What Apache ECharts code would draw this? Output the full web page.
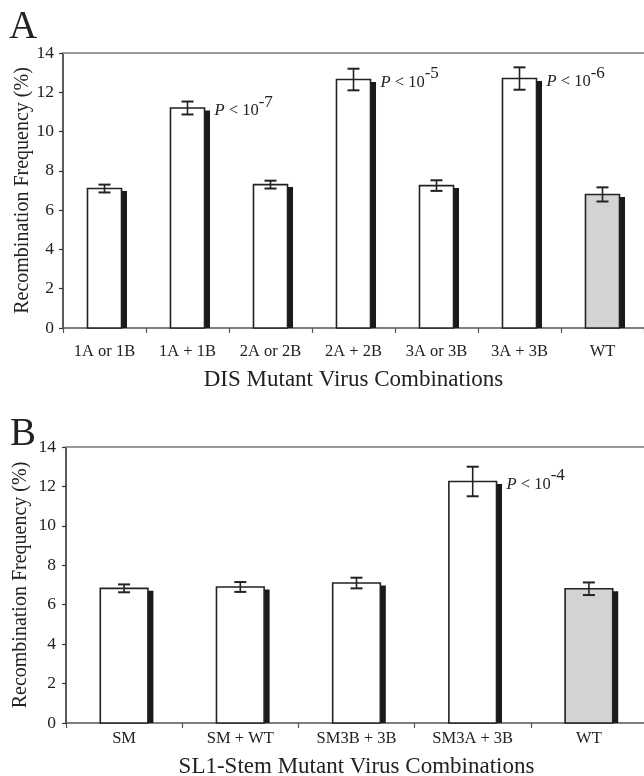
<!DOCTYPE html>
<html>
<head>
<meta charset="utf-8">
<script src="https://cdn.jsdelivr.net/npm/echarts@6/dist/echarts.min.js"></script>
<style>
  html, body { margin: 0; padding: 0; background: #fff; }
  #chart { width: 644px; height: 776px; }
</style>
</head>
<body>
<div id="chart"></div>
<script>
// panel A - DIS mutants
let cats_a = ["1A or 1B", "1A + 1B", "2A or 2B", "2A + 2B", "3A or 3B", "3A + 3B", "WT"];
let vals_a = [7.1, 11.2, 7.3, 12.65, 7.25, 12.7, 6.8];
let errs_a = [0.2, 0.33, 0.2, 0.55, 0.27, 0.57, 0.36];
let pexp_a = ["", "-7", "", "-5", "", "-6", ""];

// panel B - SL1-stem mutants
let cats_b = ["SM", "SM + WT", "SM3B + 3B", "SM3A + 3B", "WT"];
let vals_b = [6.83, 6.9, 7.1, 12.25, 6.81];
let errs_b = [0.2, 0.25, 0.27, 0.75, 0.32];
let pexp_b = ["", "", "", "-4", ""];

let y_ticks = [0, 2, 4, 6, 8, 10, 12, 14];

const FONT = "Liberation Serif";
const INK = "#222";

function makeData(cats, vals, errs, pexp) {
  return cats.map(function(c, i) {
    return [i, vals[i], errs[i], pexp[i], c === "WT" ? 1 : 0];
  });
}

function renderBar(params, api, pexpList) {
  let i = api.value(0);
  let v = api.value(1);
  let e = api.value(2);
  let pexp = pexpList[i];
  let isWT = api.value(4);
  let base = api.coord([i, 0]);
  let top = api.coord([i, v]);
  let bw = api.size([1, 0])[0] * 0.41;
  let x0 = top[0] - bw / 2;
  let hi = api.coord([i, v + e])[1];
  let lo = api.coord([i, v - e])[1];
  let cap = 6;
  let kids = [
    {
      type: "rect",
      shape: { x: x0 + bw - 0.5, y: top[1] + 2.5, width: 6, height: base[1] - top[1] - 2.5 },
      style: { fill: "#1a1a1a" }
    },
    {
      type: "rect",
      shape: { x: x0, y: top[1], width: bw, height: base[1] - top[1] },
      style: { fill: isWT ? "#d3d3d3" : "#fff", stroke: INK, lineWidth: 1.6 }
    },
    {
      type: "line",
      shape: { x1: top[0], y1: hi, x2: top[0], y2: lo },
      style: { stroke: INK, lineWidth: 1.6 }
    },
    {
      type: "line",
      shape: { x1: top[0] - cap, y1: hi, x2: top[0] + cap, y2: hi },
      style: { stroke: INK, lineWidth: 2 }
    },
    {
      type: "line",
      shape: { x1: top[0] - cap, y1: lo, x2: top[0] + cap, y2: lo },
      style: { stroke: INK, lineWidth: 2 }
    }
  ];
  if (pexp) {
    kids.push({
      type: "text",
      x: x0 + bw + 10,
      y: top[1] + 3,
      style: {
        text: "{p|P} < 10{s|" + pexp + "}",
        fontFamily: FONT,
        fontSize: 16.5,
        fill: INK,
        align: "left",
        verticalAlign: "middle",
        rich: {
          p: { fontFamily: FONT, fontSize: 16.5, fontStyle: "italic", fill: INK },
          s: { fontFamily: FONT, fontSize: 17, fill: INK, padding: [0, 0, 17, 0] }
        }
      }
    });
  }
  return { type: "group", children: kids };
}

function xAxisPair(gridIndex, cats, labelMargin, name, nameGap) {
  return [
    {
      type: "category",
      gridIndex: gridIndex,
      position: "bottom",
      data: cats,
      name: name,
      nameLocation: "middle",
      nameGap: nameGap,
      nameTextStyle: { fontFamily: FONT, fontSize: 23, color: INK },
      axisLine: { show: true, lineStyle: { color: "#555", width: 1.6 } },
      axisTick: { show: true, length: 5, lineStyle: { color: "#555", width: 1.2 } },
      axisLabel: { fontFamily: FONT, fontSize: 16.5, color: INK, margin: labelMargin, interval: 0 },
      splitLine: { show: false }
    },
    {
      type: "category",
      gridIndex: gridIndex,
      position: "top",
      data: cats,
      axisLine: { show: true, lineStyle: { color: "#9a9a9a", width: 2 } },
      axisTick: { show: false },
      axisLabel: { show: false },
      splitLine: { show: false }
    }
  ];
}

function yAxisFor(gridIndex, labelMargin, nameGap) {
  return {
    type: "value",
    gridIndex: gridIndex,
    min: y_ticks[0],
    max: y_ticks[y_ticks.length - 1],
    interval: y_ticks[1] - y_ticks[0],
    name: "Recombination Frequency (%)",
    nameLocation: "middle",
    nameGap: nameGap,
    nameMoveOverlap: false,
    nameTextStyle: { fontFamily: FONT, fontSize: 20, color: INK },
    axisLine: { show: true, lineStyle: { color: "#333", width: 1.6 } },
    axisTick: { show: true, length: 4, lineStyle: { color: "#333", width: 1.2 } },
    axisLabel: { fontFamily: FONT, fontSize: 17.5, color: INK, margin: labelMargin },
    splitLine: { show: false }
  };
}

let chart = echarts.init(document.getElementById("chart"), null, { renderer: "canvas" });

let option = {
  animation: false,
  backgroundColor: "#fff",
  grid: [
    { left: 63, top: 53, right: 0, height: 275, outerBoundsMode: "none" },
    { left: 66, top: 447, right: -3, height: 276, outerBoundsMode: "none" }
  ],
  xAxis: xAxisPair(0, cats_a, 15, "DIS Mutant Virus Combinations", 40)
    .concat(xAxisPair(1, cats_b, 7, "SL1-Stem Mutant Virus Combinations", 32)),
  yAxis: [yAxisFor(0, 9, 30), yAxisFor(1, 10, 35)],
  graphic: [
    { type: "text", left: 9, top: 8, style: { text: "A", fontFamily: FONT, fontSize: 39, fill: INK } },
    { type: "text", left: 10, top: 415, style: { text: "B", fontFamily: FONT, fontSize: 39, fill: INK } }
  ],
  series: [
    {
      type: "custom",
      xAxisIndex: 0,
      yAxisIndex: 0,
      renderItem: function(params, api) {
        return renderBar(params, api, pexp_a);
      },
      data: makeData(cats_a, vals_a, errs_a, pexp_a),
      clip: false
    },
    {
      type: "custom",
      xAxisIndex: 2,
      yAxisIndex: 1,
      renderItem: function(params, api) {
        return renderBar(params, api, pexp_b);
      },
      data: makeData(cats_b, vals_b, errs_b, pexp_b),
      clip: false
    }
  ]
};

chart.setOption(option);
</script>
</body>
</html>
